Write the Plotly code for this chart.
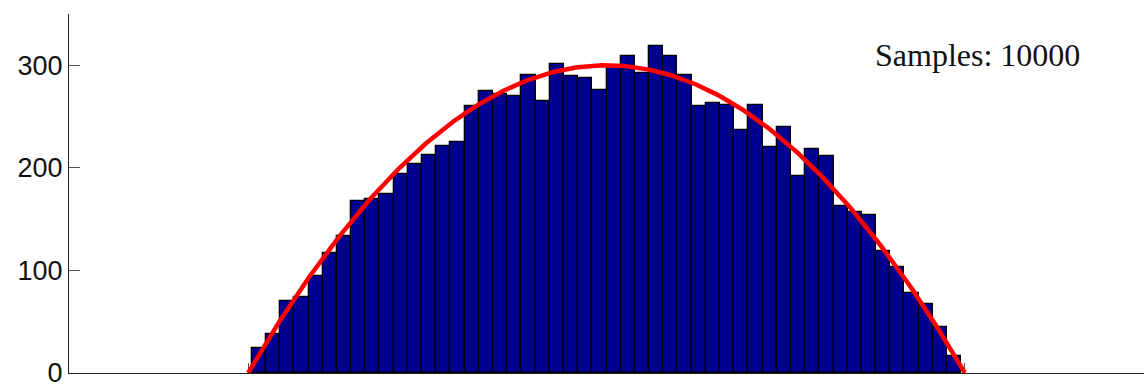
import numpy as np
import plotly.graph_objects as go

# Histogram of 10000 samples, 50 equal bins over the sample range
n_samples = 10000
bin_lo, bin_hi = -1.98, 1.98
counts = [
    24, 38, 70, 74, 95, 117, 134, 168, 170, 175,
    194, 204, 213, 221, 225, 260, 275, 272, 270, 291,
    265, 301, 290, 288, 276, 299, 309, 292, 319, 309,
    291, 260, 263, 261, 237, 261, 220, 240, 192, 218,
    212, 163, 157, 154, 119, 103, 78, 67, 45, 17,
]

# Expected counts per bin: 300 * (1 - x^2 / 4) on [-2, 2]
peak = 300
support = 2.0

edges = np.linspace(bin_lo, bin_hi, len(counts) + 1)
centers = 0.5 * (edges[:-1] + edges[1:])
width = edges[1] - edges[0]

xc = np.linspace(-support, support, 401)
yc = peak * (1 - xc**2 / support**2)

fig = go.Figure()
fig.add_trace(go.Bar(
    x=centers, y=counts, width=width,
    marker=dict(color="#000090", line=dict(color="black", width=1.3)),
    hoverinfo="skip",
))
fig.add_trace(go.Scatter(
    x=xc, y=yc, mode="lines",
    line=dict(color="#ff0000", width=4.5),
    hoverinfo="skip",
))

fig.add_annotation(
    x=2.068, y=310, xref="x", yref="y",
    text=f"Samples: {n_samples}", showarrow=False,
    xanchor="center", yanchor="middle",
    font=dict(family="Liberation Serif, DejaVu Serif, serif", size=32, color="#111111"),
)

fig.update_layout(
    width=1144, height=392,
    margin=dict(l=69, r=0, t=14, b=19),
    paper_bgcolor="white", plot_bgcolor="white",
    showlegend=False, bargap=0,
    xaxis=dict(
        range=[-3, 3], showgrid=False, zeroline=False,
        showline=True, linecolor="#222222", linewidth=1,
        ticks="inside", ticklen=10, tickcolor="#555555",
        tickvals=[-3, -2, -1, 0, 1, 2, 3], showticklabels=False,
        layer="below traces",
    ),
    yaxis=dict(
        range=[0, 350], showgrid=False, zeroline=False,
        showline=True, linecolor="#222222", linewidth=1,
        ticks="inside", ticklen=11, tickcolor="#555555",
        tickvals=[0, 100, 200, 300],
        tickfont=dict(family="Liberation Sans, Arial, sans-serif", size=27, color="#111111"),
    ),
)

fig.write_html("out.html")
